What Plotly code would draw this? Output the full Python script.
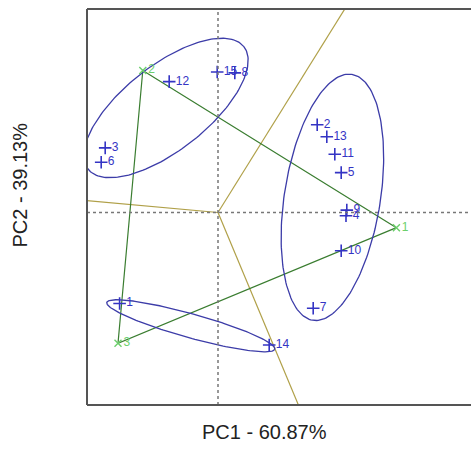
import numpy as np
import plotly.graph_objects as go

# ---- data (PCA scores) ----
sample_ids = ["1", "2", "3", "4", "5", "6", "7", "8", "9", "10", "11", "12", "13", "14", "15"]
sample_pc1 = [-1.23, 1.24, -1.41, 1.60, 1.54, -1.46, 1.19, 0.21, 1.61, 1.54, 1.46, -0.61, 1.36, 0.64, -0.01]
sample_pc2 = [-1.14, 1.10, 0.81, -0.04, 0.50, 0.63, -1.20, 1.75, 0.03, -0.48, 0.73, 1.64, 0.95, -1.66, 1.76]

group_ids = ["1", "2", "3"]
group_pc1 = [2.23, -0.94, -1.25]
group_pc2 = [-0.19, 1.78, -1.64]

# confidence ellipses: centre x, centre y, semi-major, semi-minor, angle (deg)
ell_cx = [-0.65, 1.43, -0.34]
ell_cy = [1.31, 0.19, -1.42]
ell_a = [1.24, 1.56, 1.09]
ell_b = [0.53, 0.60, 0.15]
ell_ang = [38.3, 81.0, -15.6]

x_title = "PC1 - 60.87%"
y_title = "PC2 - 39.13%"

BLUE = "#3434c4"
ELL = "#3c3ca8"
LGREEN = "#6ccf6c"
DGREEN = "#3a7d30"
OLIVE = "#b0a048"

fig = go.Figure()

# olive boundary rays (perpendicular to triangle sides, from origin)
g = np.array(list(zip(group_pc1, group_pc2)))
for i, j, k in [(1, 0, 2), (1, 2, 0), (2, 0, 1)]:
    s = g[j] - g[i]
    perp = np.array([-s[1], s[0]])
    mid = (g[i] + g[j]) / 2
    if np.dot(perp, mid - g[k]) < 0:
        perp = -perp
    perp = perp / np.linalg.norm(perp)
    fig.add_trace(go.Scatter(x=[0, perp[0] * 10], y=[0, perp[1] * 10], mode="lines",
                             line=dict(color=OLIVE, width=1.2), hoverinfo="skip"))

# triangle between group centroids
fig.add_trace(go.Scatter(x=group_pc1 + [group_pc1[0]], y=group_pc2 + [group_pc2[0]], mode="lines",
                         line=dict(color=DGREEN, width=1.2), hoverinfo="skip"))

# ellipses
t = np.linspace(0, 2 * np.pi, 200)
for cx, cy, a, b, ang in zip(ell_cx, ell_cy, ell_a, ell_b, ell_ang):
    th = np.deg2rad(ang)
    ex = cx + a * np.cos(t) * np.cos(th) - b * np.sin(t) * np.sin(th)
    ey = cy + a * np.cos(t) * np.sin(th) + b * np.sin(t) * np.cos(th)
    fig.add_trace(go.Scatter(x=ex, y=ey, mode="lines", line=dict(color=ELL, width=1.3), hoverinfo="skip"))

# samples
fig.add_trace(go.Scatter(x=sample_pc1, y=sample_pc2, mode="markers+text", text=sample_ids,
                         textposition="middle right",
                         textfont=dict(family="Liberation Sans, Arial", size=12, color=BLUE),
                         marker=dict(symbol="cross-thin", size=9, line=dict(color=BLUE, width=1.6))))

# group centroids
fig.add_trace(go.Scatter(x=group_pc1, y=group_pc2, mode="markers+text", text=group_ids,
                         textposition="middle right",
                         textfont=dict(family="Liberation Sans, Arial", size=12, color=LGREEN),
                         marker=dict(symbol="x-thin", size=7, line=dict(color=LGREEN, width=1.4))))

shapes = [
    dict(type="line", xref="x", yref="paper", x0=0, x1=0, y0=0, y1=1,
         line=dict(color="#777777", width=1.5, dash="dot")),
    dict(type="line", xref="paper", yref="y", x0=0, x1=1, y0=0, y1=0,
         line=dict(color="#777777", width=1.5, dash="dot")),
    dict(type="line", xref="paper", yref="paper", x0=0, x1=0, y0=0, y1=1, line=dict(color="#555555", width=2)),
    dict(type="line", xref="paper", yref="paper", x0=0, x1=1, y0=1, y1=1, line=dict(color="#555555", width=2)),
    dict(type="line", xref="paper", yref="paper", x0=0, x1=1, y0=0, y1=0, line=dict(color="#555555", width=2)),
]

fig.update_layout(
    width=471, height=468,
    margin=dict(l=87, r=0, t=9, b=63),
    paper_bgcolor="white", plot_bgcolor="white",
    showlegend=False,
    hovermode=False,
    xaxis=dict(range=[-1.6375, 3.1625], showgrid=False, zeroline=False, showticklabels=False, ticks=""),
    yaxis=dict(range=[-2.4125, 2.55], showgrid=False, zeroline=False, showticklabels=False, ticks=""),
    shapes=shapes,
    annotations=[
        dict(text=x_title, xref="paper", yref="paper", x=0.4635, y=-0.068, showarrow=False,
             xanchor="center", yanchor="middle",
             font=dict(family="Liberation Sans, Arial", size=20, color="#222222")),
        dict(text=y_title, xref="paper", yref="paper", x=-0.1745, y=0.5567, showarrow=False,
             textangle=-90, xanchor="center", yanchor="middle",
             font=dict(family="Liberation Sans, Arial", size=20, color="#222222")),
    ],
)

fig.write_html(
    "out.html",
    config={"displayModeBar": False},
    post_script="document.body.style.margin='0';document.documentElement.style.overflow='hidden';",
)
